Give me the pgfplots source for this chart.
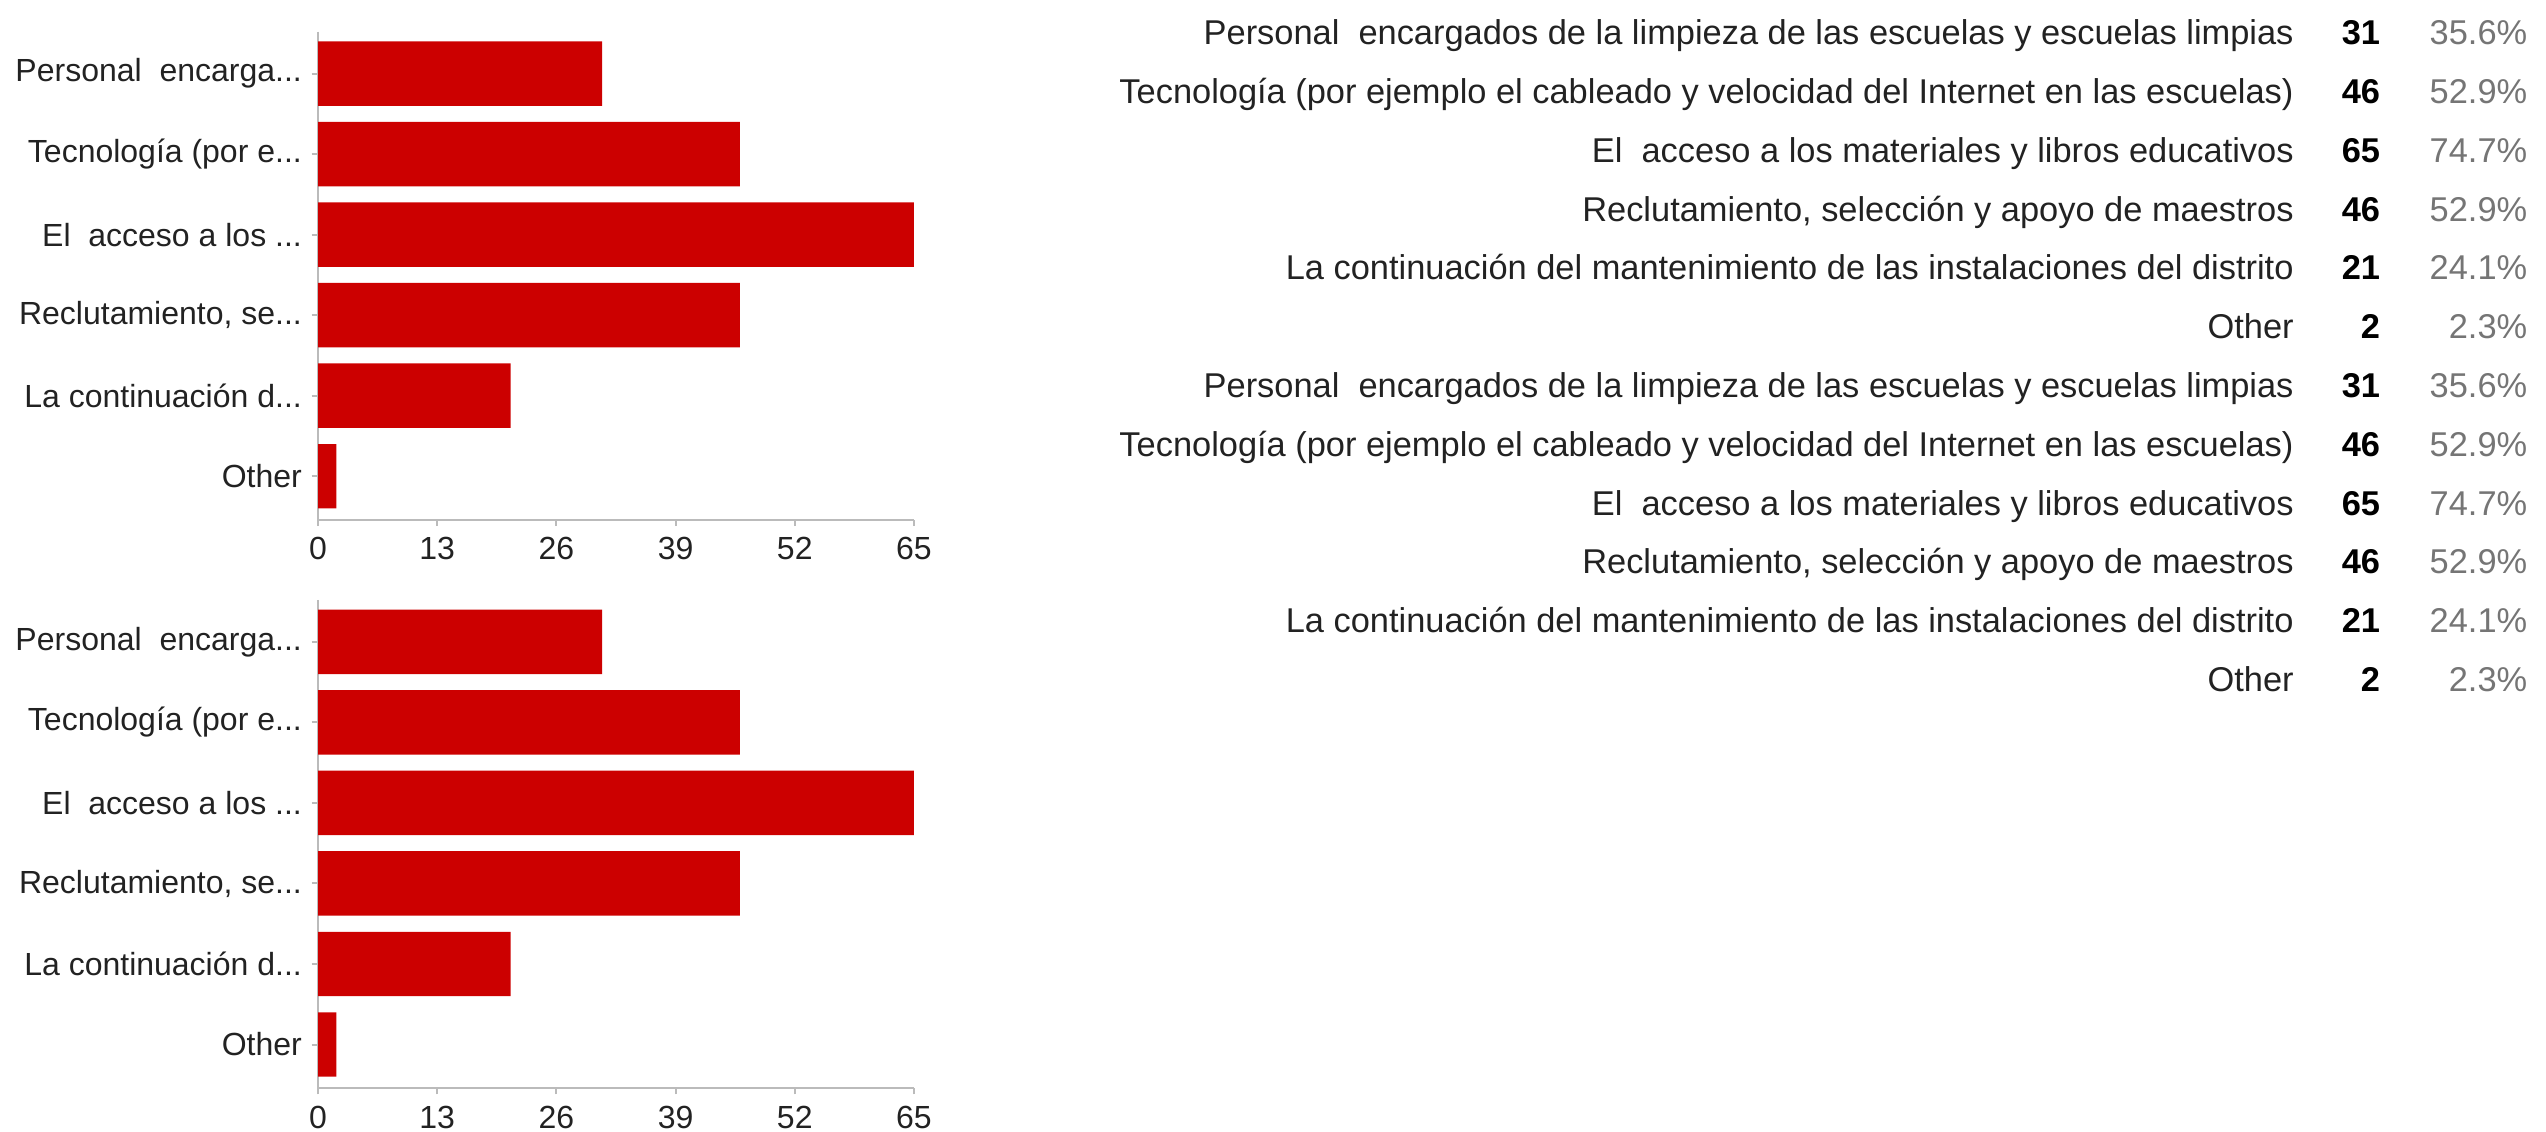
\documentclass[border=0pt]{standalone}
\usepackage{pgfplots}
\pgfplotsset{compat=1.18}
\usepackage{fontspec}
\setmainfont{Liberation Sans}
\definecolor{barred}{HTML}{CC0000}
\definecolor{axgray}{HTML}{BBBBBB}
\definecolor{lab}{HTML}{222222}
\definecolor{pct}{HTML}{757575}
\newcommand{\tdots}{...}

\pgfplotsset{
 resp/.style={
  xbar, scale only axis, width=149pt, height=122pt,
  xmin=0, xmax=65, ymin=-0.52, ymax=5.54, y dir=reverse,
  xtick={0,13,26,39,52,65}, ytick={0,1,2,3,4,5},
  yticklabels={Personal~~encarga\tdots, Tecnología (por e\tdots, El~~acceso a los \tdots, {Reclutamiento, se\tdots}, La continuación d\tdots, Other},
  axis x line*=bottom, axis y line*=left,
  axis line style={axgray, line width=0.5pt},
  tick style={axgray, line width=0.5pt},
  tick align=outside, major tick length=1.6pt,
  ticklabel style={font=\fontsize{8}{9.6}\selectfont, text=lab},
  xticklabel style={yshift=0.7pt},
  yticklabel style={xshift=1.1pt},
  /pgf/number format/assume math mode=true,
  bar width=0.8,
  clip=false,
 }
}

\pgfplotstableread{
idx count
0 31
1 46
2 65
3 46
4 21
5 2
}\resptable

\begin{document}
\begin{tikzpicture}
\useasboundingbox (0,0) rectangle (636.5pt,-283pt);

\begin{axis}[resp, at={(79.5pt,-129.925pt)}, anchor=south west]
\addplot[fill=barred, draw=none] table[x=count, y=idx] {\resptable};
\end{axis}

\begin{axis}[resp, at={(79.5pt,-272pt)}, anchor=south west]
\addplot[fill=barred, draw=none] table[x=count, y=idx] {\resptable};
\end{axis}

\foreach \i/\lab/\n/\p in {
 0/{Personal\ \ encargados de la limpieza de las escuelas y escuelas limpias}/31/35.6,
 1/{Tecnología (por ejemplo el cableado y velocidad del Internet en las escuelas)}/46/52.9,
 2/{El\ \ acceso a los materiales y libros educativos}/65/74.7,
 3/{Reclutamiento, selección y apoyo de maestros}/46/52.9,
 4/{La continuación del mantenimiento de las instalaciones del distrito}/21/24.1,
 5/{Other}/2/2.3,
 6/{Personal\ \ encargados de la limpieza de las escuelas y escuelas limpias}/31/35.6,
 7/{Tecnología (por ejemplo el cableado y velocidad del Internet en las escuelas)}/46/52.9,
 8/{El\ \ acceso a los materiales y libros educativos}/65/74.7,
 9/{Reclutamiento, selección y apoyo de maestros}/46/52.9,
 10/{La continuación del mantenimiento de las instalaciones del distrito}/21/24.1,
 11/{Other}/2/2.3}{
  \pgfmathsetmacro{\yy}{-(11.2+14.7*\i)}
  \node[anchor=base east, inner sep=0pt, text=lab, font=\fontsize{8.6}{10}\selectfont] at (573.6pt,\yy pt) {\lab};
  \node[anchor=base east, inner sep=0pt, text=black, font=\fontsize{8.6}{10}\selectfont\bfseries] at (595.2pt,\yy pt) {\n};
  \node[anchor=base east, inner sep=0pt, text=pct, font=\fontsize{8.6}{10}\selectfont] at (632pt,\yy pt) {\p\%};
}
\end{tikzpicture}
\end{document}
